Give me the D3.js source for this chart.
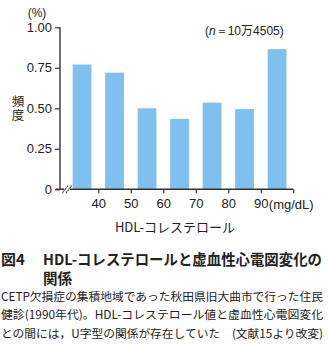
<!DOCTYPE html>
<html>
<head>
<meta charset="utf-8">
<script src="https://cdn.jsdelivr.net/npm/d3@7/dist/d3.min.js"></script>
<style>
  html, body { margin: 0; padding: 0; background: #fff; }
  svg { display: block; }
</style>
</head>
<body>
<svg id="chart" width="328" height="344"></svg>
<script>
// HDL-cholesterol bins (lower bound, mg/dL) and frequency of ischemic ECG change (%)
const binStarts = [30, 40, 50, 60, 70, 80, 90];
const frequency = [0.77, 0.72, 0.50, 0.435, 0.535, 0.495, 0.865];
const xTickValues = [40, 50, 60, 70, 80, 90];
const yTickValues = [0, 0.25, 0.5, 0.75, 1.0];
const yTickLabels = ["0", "0.25", "0.50", "0.75", "1.00"];

const svg = d3.select("#chart");
const latin = "'Liberation Sans', Arial, sans-serif";
const cjk = "'Noto Sans CJK JP', 'Noto Sans', sans-serif";
const axisColor = "#333";
const barColor = "#80c0ee";

const x0 = 60, yBase = 189.3, yTop = 27.3;
const x = d3.scaleLinear().domain([40, 90]).range([98.3, 260.8]);
const y = d3.scaleLinear().domain([0, 1]).range([yBase, yTop]);
const binWidth = 10;

// bars
svg.append("g").selectAll("rect")
  .data(binStarts)
  .join("rect")
  .attr("x", (d) => x(d + binWidth / 2) - 9.4)
  .attr("width", 18.8)
  .attr("y", (d, i) => y(frequency[i]))
  .attr("height", (d, i) => yBase - y(frequency[i]))
  .attr("fill", barColor);

// y axis
const yAxis = d3.axisLeft(y)
  .tickValues(yTickValues)
  .tickFormat((d, i) => yTickLabels[i])
  .tickSize(5)
  .tickPadding(3);
const gy = svg.append("g").attr("transform", `translate(${x0},0)`).call(yAxis);
gy.select(".domain").remove();
gy.selectAll(".tick line").attr("stroke", axisColor).attr("stroke-width", 1.2);
gy.selectAll(".tick text")
  .attr("font-family", latin).attr("font-size", 13).attr("fill", "#222");
svg.append("line")
  .attr("x1", x0).attr("x2", x0).attr("y1", yTop).attr("y2", yBase)
  .attr("stroke", axisColor).attr("stroke-width", 1.4);

// x axis
const xAxis = d3.axisBottom(x)
  .tickValues(xTickValues.concat([100]))
  .tickFormat((d) => (d === 100 ? "" : d))
  .tickSize(4)
  .tickPadding(5);
const gx = svg.append("g").attr("transform", `translate(0,${yBase})`).call(xAxis);
gx.select(".domain").remove();
gx.selectAll(".tick line").attr("stroke", axisColor).attr("stroke-width", 1.2);
gx.selectAll(".tick text")
  .attr("font-family", latin).attr("font-size", 13).attr("fill", "#222");
svg.append("line")
  .attr("x1", x0 - 4).attr("x2", x(100)).attr("y1", yBase).attr("y2", yBase)
  .attr("stroke", axisColor).attr("stroke-width", 1.4);

// axis break mark
const brk = svg.append("g").attr("transform", `translate(67,${yBase})`);
brk.append("rect").attr("x", -3).attr("y", -1.5).attr("width", 6).attr("height", 3).attr("fill", "#fff");
[-1.8, 1.8].forEach((dx) => {
  brk.append("path")
    .attr("d", `M${dx - 2.5},4 C${dx - 3},1 ${dx + 1},1 ${dx},0 S${dx + 3},-1 ${dx + 2.5},-4`)
    .attr("fill", "none").attr("stroke", axisColor).attr("stroke-width", 1);
});

// unit labels
svg.append("text")
  .attr("x", x(90) + 8).attr("y", yBase + 20)
  .attr("font-family", latin).attr("font-size", 13).attr("fill", "#222")
  .text("(mg/dL)");
svg.append("text")
  .attr("x", 37).attr("y", 16.5).attr("text-anchor", "middle")
  .attr("font-family", latin).attr("font-size", 12).attr("fill", "#222")
  .text("(%)");

// y label, set vertically
svg.append("text")
  .attr("x", 18).attr("y", 95)
  .style("writing-mode", "vertical-rl")
  .attr("letter-spacing", 1.5)
  .attr("font-family", cjk).attr("font-size", 12.5).attr("fill", "#222")
  .text("頻度");

// sample size
const nt = svg.append("text")
  .attr("x", 205).attr("y", 35)
  .attr("font-family", latin).attr("font-size", 12).attr("fill", "#222");
nt.append("tspan").text("(");
nt.append("tspan").attr("font-style", "italic").text("n");
nt.append("tspan").text("＝10");
nt.append("tspan").attr("font-family", cjk).text("万");
nt.append("tspan").text("4505)");

// x title
svg.append("text")
  .attr("x", 175).attr("y", 232).attr("text-anchor", "middle")
  .attr("font-family", cjk).attr("font-size", 13).attr("fill", "#222")
  .text("HDL-コレステロール");

// caption
svg.append("text")
  .attr("x", 1).attr("y", 265)
  .attr("font-family", cjk).attr("font-size", 15).attr("font-weight", "bold").attr("fill", "#222")
  .text("図4");
svg.append("text")
  .attr("x", 43).attr("y", 265).attr("textLength", 279).attr("lengthAdjust", "spacingAndGlyphs")
  .attr("font-family", cjk).attr("font-size", 14.6).attr("font-weight", "bold").attr("fill", "#222")
  .text("HDL-コレステロールと虚血性心電図変化の");
svg.append("text")
  .attr("x", 43).attr("y", 284)
  .attr("font-family", cjk).attr("font-size", 14.5).attr("font-weight", "bold").attr("fill", "#222")
  .text("関係");

const body = [
  "CETP欠損症の集積地域であった秋田県旧大曲市で行った住民",
  "健診(1990年代)。HDL-コレステロール値と虚血性心電図変化",
  "との間には，U字型の関係が存在していた　(文献15より改変)"
];
body.forEach((line, i) => {
  svg.append("text")
    .attr("x", 1).attr("y", 300.5 + i * 18.5)
    .attr("textLength", 322).attr("lengthAdjust", "spacingAndGlyphs")
    .attr("font-family", cjk).attr("font-size", 11.5).attr("fill", "#222")
    .text(line);
});
</script>
</body>
</html>
